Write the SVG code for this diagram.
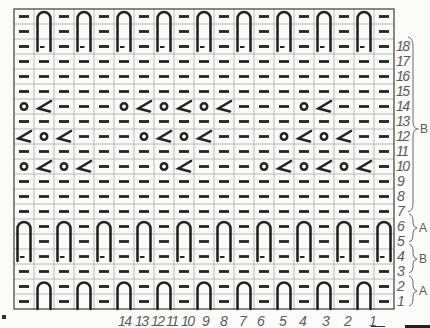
<svg xmlns="http://www.w3.org/2000/svg" xmlns:xlink="http://www.w3.org/1999/xlink" width="430" height="328" viewBox="0 0 430 328">
<style>
.sym{fill:none;stroke:#242424;stroke-width:2.6;stroke-linecap:round}
.dash{stroke:#242424;stroke-width:2.8;stroke-linecap:butt}
.grid{fill:none;stroke:#a9b3b3;stroke-width:0.9}
.lbl{font-family:"Liberation Sans",Arial,sans-serif;font-style:italic;font-size:14px;fill:#5a5a5a;letter-spacing:-1.5px}
.br{fill:none;stroke:#6a6a6a;stroke-width:1}
.let{font-family:"Liberation Sans",Arial,sans-serif;font-size:12px;fill:#5a5a5a}
</style>
<defs>
<line id="d" class="dash" x1="5" y1="7.5" x2="15" y2="7.5"/>
<circle id="o" class="sym" cx="10" cy="7.5" r="3.2"/>
<path id="k" class="sym" d="M17,2 L4.5,9.5 L16,12.5"/>
<g id="L3"><path class="sym" d="M3.5,42 V9.5 A6.5,6.5 0 0 1 16.5,9.5 V42"/><line class="dash" x1="6" y1="38" x2="10.5" y2="38" style="stroke-width:2"/></g>
<path id="L2" class="sym" d="M3.5,30 V10 A6.5,6.5 0 0 1 16.5,10 V30"/>
<g id="drow"><use href="#d" x="14"/><use href="#d" x="34"/><use href="#d" x="54"/><use href="#d" x="74"/><use href="#d" x="94"/><use href="#d" x="114"/><use href="#d" x="134"/><use href="#d" x="154"/><use href="#d" x="174"/><use href="#d" x="194"/><use href="#d" x="214"/><use href="#d" x="234"/><use href="#d" x="254"/><use href="#d" x="274"/><use href="#d" x="294"/><use href="#d" x="314"/><use href="#d" x="334"/><use href="#d" x="354"/><use href="#d" x="374"/></g>
<g id="dEven"><use href="#d" x="14"/><use href="#d" x="54"/><use href="#d" x="94"/><use href="#d" x="134"/><use href="#d" x="174"/><use href="#d" x="214"/><use href="#d" x="254"/><use href="#d" x="294"/><use href="#d" x="334"/><use href="#d" x="374"/></g>
<g id="dOdd"><use href="#d" x="34"/><use href="#d" x="74"/><use href="#d" x="114"/><use href="#d" x="154"/><use href="#d" x="194"/><use href="#d" x="234"/><use href="#d" x="274"/><use href="#d" x="314"/><use href="#d" x="354"/></g>
</defs>
<rect width="430" height="328" fill="#fbfbfa"/>
<g id="grid">
<path class="grid" d="M34,9V309M54,9V309M74,9V309M94,9V309M114,9V309M134,9V309M154,9V309M174,9V309M194,9V309M214,9V309M234,9V309M254,9V309M274,9V309M294,9V309M314,9V309M334,9V309M354,9V309M374,9V309"/>
<path class="grid" d="M14,24H394M14,39H394M14,54H394M14,69H394M14,84H394M14,99H394M14,114H394M14,129H394M14,144H394M14,159H394M14,174H394M14,189H394M14,204H394M14,219H394M14,234H394M14,249H394M14,264H394M14,279H394M14,294H394"/>
<rect x="14" y="9" width="380" height="300" fill="none" stroke="#4a4a4a" stroke-width="1.3"/>
</g>
<g id="symbols">
<use href="#dEven" y="9"/><use href="#dEven" y="24"/><use href="#dEven" y="39"/>
<g id="loopsTop"><use href="#L3" x="34" y="9"/><use href="#L3" x="74" y="9"/><use href="#L3" x="114" y="9"/><use href="#L3" x="154" y="9"/><use href="#L3" x="194" y="9"/><use href="#L3" x="234" y="9"/><use href="#L3" x="274" y="9"/><use href="#L3" x="314" y="9"/><use href="#L3" x="354" y="9"/></g>
<use href="#drow" y="54"/><use href="#drow" y="69"/><use href="#drow" y="84"/>
<g id="row14" transform="translate(0,99)"><use href="#o" x="14"/><use href="#k" x="34"/><use href="#d" x="54"/><use href="#d" x="74"/><use href="#d" x="94"/><use href="#o" x="114"/><use href="#k" x="134"/><use href="#o" x="154"/><use href="#k" x="174"/><use href="#o" x="194"/><use href="#k" x="214"/><use href="#d" x="234"/><use href="#d" x="254"/><use href="#d" x="274"/><use href="#o" x="294"/><use href="#k" x="314"/><use href="#d" x="334"/><use href="#d" x="354"/><use href="#d" x="374"/></g>
<use href="#drow" y="114"/>
<g id="row12" transform="translate(0,129)"><use href="#k" x="14"/><use href="#o" x="34"/><use href="#k" x="54"/><use href="#d" x="74"/><use href="#d" x="94"/><use href="#d" x="114"/><use href="#o" x="134"/><use href="#k" x="154"/><use href="#o" x="174"/><use href="#k" x="194"/><use href="#d" x="214"/><use href="#d" x="234"/><use href="#d" x="254"/><use href="#o" x="274"/><use href="#k" x="294"/><use href="#o" x="314"/><use href="#k" x="334"/><use href="#d" x="354"/><use href="#d" x="374"/></g>
<use href="#drow" y="144"/>
<g id="row10" transform="translate(0,159)"><use href="#o" x="14"/><use href="#k" x="34"/><use href="#o" x="54"/><use href="#k" x="74"/><use href="#d" x="94"/><use href="#d" x="114"/><use href="#d" x="134"/><use href="#o" x="154"/><use href="#k" x="174"/><use href="#d" x="194"/><use href="#d" x="214"/><use href="#d" x="234"/><use href="#o" x="254"/><use href="#k" x="274"/><use href="#o" x="294"/><use href="#k" x="314"/><use href="#o" x="334"/><use href="#k" x="354"/><use href="#d" x="374"/></g>
<use href="#drow" y="174"/><use href="#drow" y="189"/><use href="#drow" y="204"/>
<use href="#dOdd" y="219"/><use href="#dOdd" y="234"/><use href="#dOdd" y="249"/>
<g id="loopsMid"><use href="#L3" x="14" y="219"/><use href="#L3" x="54" y="219"/><use href="#L3" x="94" y="219"/><use href="#L3" x="134" y="219"/><use href="#L3" x="174" y="219"/><use href="#L3" x="214" y="219"/><use href="#L3" x="254" y="219"/><use href="#L3" x="294" y="219"/><use href="#L3" x="334" y="219"/><use href="#L3" x="374" y="219"/></g>
<use href="#drow" y="264"/>
<use href="#dEven" y="279"/><use href="#dEven" y="294"/>
<g id="loopsBot"><use href="#L2" x="34" y="279"/><use href="#L2" x="74" y="279"/><use href="#L2" x="114" y="279"/><use href="#L2" x="154" y="279"/><use href="#L2" x="194" y="279"/><use href="#L2" x="234" y="279"/><use href="#L2" x="274" y="279"/><use href="#L2" x="314" y="279"/><use href="#L2" x="354" y="279"/></g>
</g>
<g id="rowLabels" class="lbl">
<text x="397" y="306">1</text><text x="397" y="291">2</text><text x="397" y="276">3</text><text x="397" y="261">4</text><text x="397" y="246">5</text><text x="397" y="231">6</text><text x="397" y="216">7</text><text x="397" y="201">8</text><text x="397" y="186">9</text><text x="396" y="171">10</text><text x="396" y="156">11</text><text x="396" y="141">12</text><text x="396" y="126">13</text><text x="396" y="111">14</text><text x="396" y="96">15</text><text x="396" y="81">16</text><text x="396" y="66">17</text><text x="396" y="51">18</text>
</g>
<g id="colLabels" class="lbl">
<text x="118" y="326">14</text><text x="135" y="326">13</text><text x="151" y="326">12</text><text x="166" y="326">11</text><text x="181" y="326">10</text><text x="202" y="326">9</text><text x="220" y="326">8</text><text x="239" y="326">7</text><text x="257" y="326">6</text><text x="279" y="326">5</text><text x="299" y="326">4</text><text x="322" y="326">3</text><text x="344" y="326">2</text><text x="369" y="326">1</text>
</g>
<g id="braces">
<path class="br" d="M408,37 Q413,38 413,46 V121 Q413,128 417,129 Q413,130 413,137 V203 Q413,211 408,212"/>
<line class="br" x1="417" y1="129" x2="419" y2="129"/>
<text class="let" x="420" y="133">B</text>
<path class="br" d="M409,214 Q413,215 413,221 V223 Q413,227 417,228 Q413,229 413,233 V236 Q413,241 409,242"/>
<text class="let" x="419" y="232">A</text>
<path class="br" d="M409,244 Q413,245 413,251 V254 Q413,258 417,259 Q413,260 413,264 V267 Q413,272 409,273"/>
<text class="let" x="419" y="263">B</text>
<path class="br" d="M409,276 Q413,277 413,283 V286 Q413,290 417,291 Q413,292 413,296 V299 Q413,305 409,306"/>
<text class="let" x="419" y="295">A</text>
</g>
<rect x="2" y="315" width="4" height="4" fill="#333"/>
<line x1="371" y1="326.5" x2="385" y2="326.5" stroke="#333" stroke-width="1"/>
<rect x="405" y="325" width="25" height="3" fill="#222"/>
</svg>
